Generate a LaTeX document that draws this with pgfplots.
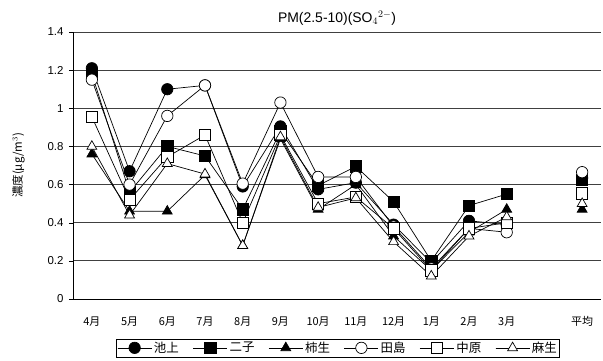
\documentclass[border=0pt]{standalone}
\usepackage{pgfplots}
\pgfplotsset{compat=1.18}
\usepackage{fontspec}
\setmainfont{Liberation Sans}
\newfontfamily\cjk{Noto Sans CJK JP}
\begin{document}
\begin{tikzpicture}
\path[use as bounding box] (-73bp,-62bp) rectangle (530bp,299bp);
\begin{axis}[
  at={(0,0)}, anchor=south west,
  scale only axis, width=528bp, height=267bp,
  xmin=-0.5, xmax=13.5, ymin=0, ymax=1.4,
  axis x line*=bottom, axis y line*=left,
  axis line style={black, line width=0.9pt, -},
  ytick={0,0.2,...,1.4},
  yticklabels={0,0.2,0.4,0.6,0.8,1,1.2,1.4},
  ymajorgrids, major grid style={black!75, line width=0.8pt},
  ytick style={black}, tick align=outside, major tick length=4bp,
  xtick={0,1,...,11,13},
  xticklabels={{\cjk 4月},{\cjk 5月},{\cjk 6月},{\cjk 7月},{\cjk 8月},{\cjk 9月},{\cjk 10月},{\cjk 11月},{\cjk 12月},{\cjk 1月},{\cjk 2月},{\cjk 3月},{\cjk 平均}},
  x tick style={draw=none},
  minor xtick={0.5,1.5,...,13.5},
  minor x tick style={black, line width=0.7pt},
  minor tick length=4bp,
  xticklabel style={font=\fontsize{11}{12}\selectfont, yshift=-10bp},
  yticklabel style={font=\fontsize{11.5}{12}\selectfont, xshift=-2bp},
  /pgf/number format/assume math mode=true,
  title={PM(2.5-10)(SO$_4{}^{2-}$)},
  title style={font=\fontsize{14}{15}\selectfont, yshift=-3bp},
  ylabel={\cjk 濃度(μg/m$^3$)},
  ylabel style={font=\fontsize{11.5}{12}\selectfont, yshift=16bp},
  unbounded coords=jump,
  every axis plot/.append style={black, line width=0.7pt, mark size=5.7bp},
  legend columns=6,
  legend style={at={(0.502,-0.183)}, anchor=center, draw=black, line width=0.7pt,
    font=\cjk\fontsize{12.5}{14}\selectfont, inner sep=1pt,
    /tikz/every even column/.append style={column sep=12bp}},
  legend image code/.code={\draw[#1] (0bp,0bp) -- (34bp,0bp); \draw[#1, mark repeat=2, mark phase=2] plot coordinates {(0bp,0bp) (17bp,0bp) (34bp,0bp)};},
]
\addplot[mark=*, mark options={fill=black, solid}] coordinates {
(0,1.21) (1,0.67) (2,1.10) (3,1.12) (4,0.59) (5,0.905) (6,0.575) (7,0.61) (8,0.39) (9,0.19) (10,0.41) (11,0.39) (12,nan) (13,0.635)};
\addlegendentry{池上}
\addplot[mark=square*, mark options={fill=black, solid}] coordinates {
(0,1.18) (1,0.56) (2,0.80) (3,0.75) (4,0.47) (5,0.88) (6,0.595) (7,0.695) (8,0.51) (9,0.20) (10,0.49) (11,0.55) (12,nan) (13,0.625)};
\addlegendentry{二子}
\addplot[mark=triangle*, mark options={fill=black, solid}] coordinates {
(0,0.76) (1,0.46) (2,0.46) (3,0.65) (4,0.28) (5,0.84) (6,0.47) (7,0.60) (8,0.33) (9,0.15) (10,0.35) (11,0.47) (12,nan) (13,0.47)};
\addlegendentry{柿生}
\addplot[mark=*, mark options={fill=white, solid}] coordinates {
(0,1.15) (1,0.60) (2,0.96) (3,1.12) (4,0.605) (5,1.03) (6,0.64) (7,0.64) (8,0.38) (9,0.16) (10,0.37) (11,0.35) (12,nan) (13,0.665)};
\addlegendentry{田島}
\addplot[mark=square*, mark options={fill=white, solid}] coordinates {
(0,0.955) (1,0.52) (2,0.745) (3,0.86) (4,0.40) (5,0.86) (6,0.50) (7,0.535) (8,0.37) (9,0.15) (10,0.37) (11,0.40) (12,nan) (13,0.555)};
\addlegendentry{中原}
\addplot[mark=triangle*, mark options={fill=white, solid}] coordinates {
(0,0.80) (1,0.44) (2,0.71) (3,0.655) (4,0.28) (5,0.85) (6,0.48) (7,0.53) (8,0.30) (9,0.12) (10,0.33) (11,0.43) (12,nan) (13,0.50)};
\addlegendentry{麻生}
\end{axis}
\end{tikzpicture}
\end{document}
